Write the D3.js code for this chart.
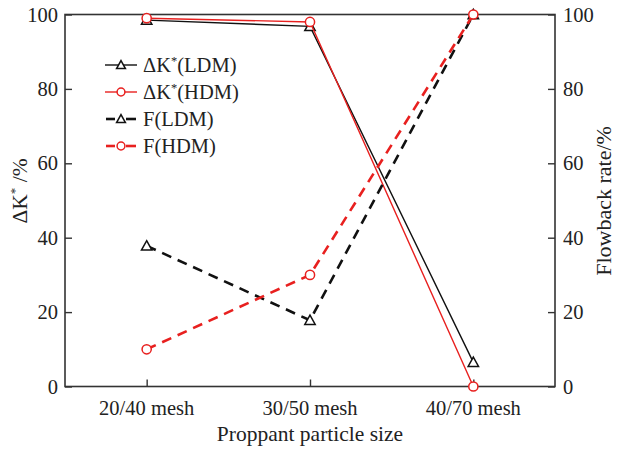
<!DOCTYPE html>
<html><head><meta charset="utf-8">
<script src="https://cdn.jsdelivr.net/npm/d3@7"></script>
<style>body{margin:0;background:#fff}svg{display:block}text{font-family:"Liberation Serif","Times New Roman",serif;fill:#222}</style>
</head><body><svg id="c" width="617" height="450"></svg>
<script>
const categories = ["20/40 mesh","30/50 mesh","40/70 mesh"];
const dK_LDM = [98.5, 96.8, 6.5];
const dK_HDM = [99, 98, 0];
const F_LDM = [37.8, 17.8, 100];
const F_HDM = [10, 30, 100];
const yTicks = [0,20,40,60,80,100];

const svg = d3.select("#c");
const L=65, R=555, T=14.5, B=386.5;
const x = d3.scalePoint().domain(categories).range([L,R]).padding(0.5);
const y = d3.scaleLinear().domain([0,100]).range([B,T]);
const RED="#e8201f", BLK="#111";
const FS=20.5;

const series = [
  {name:"ΔK*(LDM)", data:dK_LDM, color:BLK, dash:null, marker:"tri", w:1.4},
  {name:"ΔK*(HDM)", data:dK_HDM, color:RED, dash:null, marker:"circ", w:1.4},
  {name:"F(LDM)", data:F_LDM, color:BLK, dash:"10,7", marker:"tri", w:2.6},
  {name:"F(HDM)", data:F_HDM, color:RED, dash:"10,7", marker:"circ", w:2.6}
];

// axes
const ax = svg.append("g").attr("stroke","#333").attr("stroke-width",1.6).attr("fill","none");
ax.append("rect").attr("x",L).attr("y",T).attr("width",R-L).attr("height",B-T);
const fmt = d=>d;
svg.append("g").attr("transform",`translate(${L},0)`).call(d3.axisRight(y).tickValues(yTicks).tickSize(7).tickFormat(""))
  .call(g=>{g.select(".domain").remove();g.selectAll("line").attr("stroke","#333").attr("stroke-width",1.4);});
svg.append("g").attr("transform",`translate(${R},0)`).call(d3.axisLeft(y).tickValues(yTicks).tickSize(7).tickFormat(""))
  .call(g=>{g.select(".domain").remove();g.selectAll("line").attr("stroke","#333").attr("stroke-width",1.4);});
svg.append("g").attr("transform",`translate(0,${B})`).call(d3.axisTop(x).tickSize(7).tickFormat(""))
  .call(g=>{g.select(".domain").remove();g.selectAll("line").attr("stroke","#333").attr("stroke-width",1.4);});

// tick labels
svg.append("g").selectAll("text").data(yTicks).join("text")
  .attr("x",L-7).attr("y",d=>y(d)).attr("dy","0.35em").attr("text-anchor","end").attr("font-size",FS).text(fmt);
svg.append("g").selectAll("text").data(yTicks).join("text")
  .attr("x",R+8).attr("y",d=>y(d)).attr("dy","0.35em").attr("text-anchor","start").attr("font-size",FS).text(fmt);
svg.append("g").selectAll("text").data(categories).join("text")
  .attr("x",d=>x(d)).attr("y",415).attr("text-anchor","middle").attr("font-size",FS).text(d=>d);

// axis titles
svg.append("text").attr("x",(L+R)/2).attr("y",441).attr("text-anchor","middle").attr("font-size",21.5).text("Proppant particle size");
const yl = svg.append("text").attr("transform",`translate(27,191) rotate(-90)`).attr("text-anchor","middle").attr("font-size",21.5);
yl.append("tspan").text("ΔK");
yl.append("tspan").attr("font-size",13).attr("dy",-8).text("*");
yl.append("tspan").attr("dy",8).text(" /%");
svg.append("text").attr("transform",`translate(611,201) rotate(-90)`).attr("text-anchor","middle").attr("font-size",22).text("Flowback rate/%");

function marker(g, type, cx, cy, color, k){
  k = k||1;
  if(type==="tri"){
    const s=5.2*k;
    g.append("path").attr("d",`M${cx},${cy-s}L${cx+s},${cy+s*0.8}L${cx-s},${cy+s*0.8}Z`)
      .attr("fill","#fff").attr("stroke",color).attr("stroke-width",1.5);
  } else {
    g.append("circle").attr("cx",cx).attr("cy",cy).attr("r",4.6*k).attr("fill","#fff").attr("stroke",color).attr("stroke-width",1.5);
  }
}

const line = d3.line().x((d,i)=>x(categories[i])).y(d=>y(d));
series.forEach(s=>{
  const g = svg.append("g");
  g.append("path").attr("d",line(s.data)).attr("fill","none").attr("stroke",s.color)
    .attr("stroke-width",s.w).attr("stroke-dasharray",s.dash);
  s.data.forEach((v,i)=>marker(g,s.marker,x(categories[i]),y(v),s.color));
});

// legend
const rows=[65,92,119,146];
series.forEach((s,i)=>{
  const g=svg.append("g");
  const ly=rows[i];
  if(s.dash){
    g.append("line").attr("x1",106).attr("x2",115).attr("y1",ly).attr("y2",ly).attr("stroke",s.color).attr("stroke-width",s.w);
    g.append("line").attr("x1",126).attr("x2",136).attr("y1",ly).attr("y2",ly).attr("stroke",s.color).attr("stroke-width",s.w);
  } else {
    g.append("line").attr("x1",105).attr("x2",137).attr("y1",ly).attr("y2",ly).attr("stroke",s.color).attr("stroke-width",s.w);
  }
  marker(g,s.marker,121,ly,s.color,0.85);
  const t=g.append("text").attr("x",143).attr("y",ly).attr("dy","0.35em").attr("font-size",FS);
  if(s.name.startsWith("ΔK*")){
    t.append("tspan").text("ΔK");
    t.append("tspan").attr("font-size",12.5).attr("dy",-7).text("*");
    t.append("tspan").attr("dy",7).text(s.name.slice(3));
  } else t.text(s.name);
});
</script></body></html>
